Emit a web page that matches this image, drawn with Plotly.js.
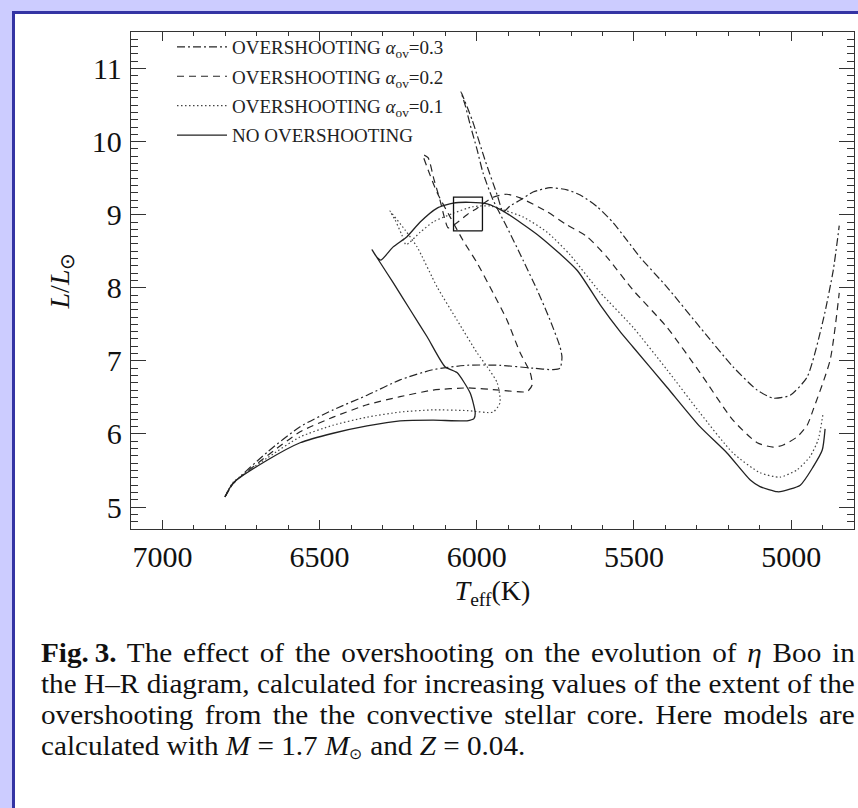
<!DOCTYPE html>
<html><head><meta charset="utf-8">
<script src="https://cdn.plot.ly/plotly-3.0.1.min.js"></script>
<style>
html,body{margin:0;padding:0;background:#ccccff;width:858px;height:808px;overflow:hidden;}
#panel{position:absolute;left:12px;top:11px;width:900px;height:900px;background:#fff;border-left:3px solid #3434a4;border-top:3px solid #3434a4;}
#chart{position:absolute;left:0;top:0;width:858px;height:808px;}
#caption{position:absolute;left:41px;top:637px;width:775px;transform:scaleX(1.05);transform-origin:0 0;
  font-family:'Liberation Serif','Times New Roman',serif;font-size:27.8px;line-height:31px;color:#111;}
#caption .j{text-align:justify;text-align-last:justify;white-space:nowrap;height:31px;}
#caption .l{text-align:left;white-space:nowrap;height:31px;}
#caption sub{font-size:0.55em;line-height:0;vertical-align:-0.25em;}
</style></head><body>
<div id="panel"></div><div id="chart"></div><div id="caption"></div>
<script>
// ---- Data (Teff in K, L in L_sun) ----
const noOvT = [6801,6775,6667,6562,6457,6349,6244,6139,6031,6009,6005,6021,6063,6101,6158,6212,6266,6308,6333,6320,6305,6266,6222,6180,6126,6075,6021,5967,5916,5799,5681,5608,5544,5503,5395,5290,5204,5130,5099,5045,5035,4971,4930,4901,4892];
const noOvL = [5.14,5.33,5.64,5.88,6.01,6.11,6.18,6.19,6.18,6.21,6.29,6.56,6.84,6.92,7.33,7.70,8.07,8.35,8.52,8.43,8.38,8.56,8.70,8.90,9.09,9.16,9.17,9.15,9.05,8.70,8.24,7.77,7.40,7.19,6.64,6.10,5.74,5.37,5.28,5.21,5.21,5.30,5.55,5.78,6.07];

const ov01T = [6801,6775,6667,6562,6457,6349,6244,6139,6031,5948,5926,5935,5967,5999,6063,6126,6190,6228,6276,6260,6238,6225,6180,6139,6075,6012,5958,5926,5853,5776,5703,5608,5503,5395,5290,5185,5099,5035,4981,4940,4914,4898];
const ov01L = [5.14,5.34,5.67,5.96,6.12,6.23,6.30,6.33,6.32,6.30,6.43,6.70,6.92,7.11,7.56,8.01,8.56,8.79,9.05,8.93,8.72,8.59,8.76,8.90,9.02,9.11,9.12,9.08,8.97,8.76,8.45,7.94,7.46,6.88,6.29,5.74,5.47,5.41,5.51,5.69,5.92,6.29];

const ov02T = [6801,6775,6667,6562,6457,6349,6244,6139,6031,5926,5840,5824,5830,5862,5904,5948,5999,6044,6085,6126,6158,6171,6155,6136,6117,6101,6091,6063,6031,5999,5948,5904,5862,5776,5713,5649,5586,5503,5395,5290,5185,5108,5057,5025,4981,4949,4930,4876,4847];
const ov02L = [5.14,5.32,5.70,6.03,6.23,6.40,6.51,6.60,6.63,6.60,6.58,6.67,6.84,7.11,7.56,7.93,8.34,8.65,8.97,9.30,9.65,9.82,9.78,9.48,9.20,8.93,8.82,8.89,9.00,9.09,9.24,9.28,9.23,9.04,8.86,8.70,8.42,7.97,7.46,6.84,6.19,5.88,5.82,5.85,5.96,6.12,6.33,7.01,7.93];

const ov03T = [6801,6775,6667,6562,6457,6349,6244,6139,6031,5926,5821,5757,5735,5729,5735,5767,5808,5853,5904,5948,5980,5999,6021,6037,6050,6015,5974,5935,5916,5894,5862,5821,5767,5713,5671,5617,5566,5522,5481,5395,5290,5185,5108,5057,5003,4949,4898,4866,4847];
const ov03L = [5.14,5.32,5.75,6.10,6.33,6.53,6.74,6.88,6.94,6.94,6.90,6.88,6.90,7.05,7.19,7.56,7.97,8.38,8.83,9.20,9.57,9.89,10.23,10.50,10.68,10.30,9.75,9.27,9.04,9.12,9.20,9.31,9.37,9.34,9.27,9.11,8.89,8.65,8.42,8.01,7.46,6.92,6.60,6.49,6.53,6.78,7.56,8.24,8.85];

// observed position of eta Boo (error box)
const obsT = 6028, obsTerr = 46, obsL = 9.01, obsLerr = 0.23;

// axis ticks
const xTicks = [7000,6500,6000,5500,5000];
const yTicks = [5,6,7,8,9,10,11];

const legendNames = [
  'OVERSHOOTING <i>α</i><sub>ov</sub>=0.3',
  'OVERSHOOTING <i>α</i><sub>ov</sub>=0.2',
  'OVERSHOOTING <i>α</i><sub>ov</sub>=0.1',
  'NO OVERSHOOTING'
];

const captionLines = [
  '<b>Fig.\u20093.</b> The effect of the overshooting on the evolution of <i>η</i> Boo in',
  'the H–R diagram, calculated for increasing values of the extent of the',
  'overshooting from the the convective stellar core. Here models are',
  'calculated with <i>M</i> = 1.7 <i>M</i><sub>⊙</sub> and <i>Z</i> = 0.04.'
];

// ---- Caption (real text, justified like the paper) ----
const cap = document.getElementById('caption');
captionLines.forEach((t, i) => {
  const d = document.createElement('div');
  d.className = i < captionLines.length - 1 ? 'j' : 'l';
  d.innerHTML = t;
  cap.appendChild(d);
});

// ---- Plot ----
const serif = 'Liberation Serif, Times New Roman, serif';
const lc = '#262626';
function tr(x, y, name, dash, grp, col, w) {
  return {x: x, y: y, name: name, type: 'scatter', mode: 'lines',
    legendgroup: grp, line: {color: col || lc, width: w || 1.2, dash: dash, shape: 'spline', smoothing: 0.6}};
}
const traces = [
  tr(ov03T, ov03L, legendNames[0], '8px,3px,2px,3px', 'a'),
  tr(ov02T, ov02L, legendNames[1], '7px,5px', 'b'),
  tr(ov01T, ov01L, legendNames[2], '1.5px,2.5px', 'c', '#444'),
  tr(noOvT, noOvL, legendNames[3], 'solid', 'd', '#222', 1.3),
  {x: [obsT - obsTerr, obsT + obsTerr, obsT + obsTerr, obsT - obsTerr, obsT - obsTerr],
   y: [obsL - obsLerr, obsL - obsLerr, obsL + obsLerr, obsL + obsLerr, obsL - obsLerr],
   type: 'scatter', mode: 'lines', showlegend: false, line: {color: '#111', width: 1.3}}
];

const L0 = 131, B0 = 529, PW = 723, PH = 497;
function px(x) { return (x - L0) / PW; }
function py(y) { return (B0 - y) / PH; }

const axCommon = {
  showline: true, linecolor: '#333', linewidth: 1.2, mirror: 'allticks',
  ticks: 'inside', tickcolor: '#333', tickwidth: 1, showgrid: false, zeroline: false,
  tickfont: {family: serif, size: 30, color: '#111'}
};

const layout = {
  width: 858, height: 808,
  margin: {l: 131, r: 4, t: 32, b: 279, pad: 0},
  paper_bgcolor: 'rgba(0,0,0,0)', plot_bgcolor: '#fff',
  showlegend: true,
  legend: {x: px(172), y: py(28), xanchor: 'left', yanchor: 'top', bgcolor: 'rgba(0,0,0,0)',
    font: {family: serif, size: 19, color: '#222'}, itemwidth: 50, tracegroupgap: 1.7,
    traceorder: 'grouped', itemclick: false},
  xaxis: Object.assign({}, axCommon, {
    range: [7100, 4800], tickmode: 'linear', tick0: xTicks[xTicks.length - 1], dtick: xTicks[0] - xTicks[1],
    ticklen: 9, ticklabelstandoff: 1,
    minor: {tickmode: 'linear', tick0: 5000, dtick: 100, ticks: 'inside', ticklen: 4, tickcolor: '#333', showgrid: false},
    title: {text: '<i>T</i><sub>eff</sub>(K)', font: {family: serif, size: 28, color: '#111'}, standoff: 8}
  }),
  yaxis: Object.assign({}, axCommon, {
    range: [4.7, 11.5], tickmode: 'linear', tick0: yTicks[0], dtick: yTicks[1] - yTicks[0],
    ticklen: 15, ticklabelstandoff: 2,
    minor: {tickmode: 'linear', tick0: 5, dtick: 0.1, ticks: 'inside', ticklen: 7, tickcolor: '#333', showgrid: false},
    title: {text: '<i>L</i>/<i>L</i><sub>⊙</sub>', font: {family: serif, size: 28, color: '#111'}, standoff: 14}
  })
};

Plotly.newPlot('chart', traces, layout, {staticPlot: true, displayModeBar: false});
</script>
</body></html>
